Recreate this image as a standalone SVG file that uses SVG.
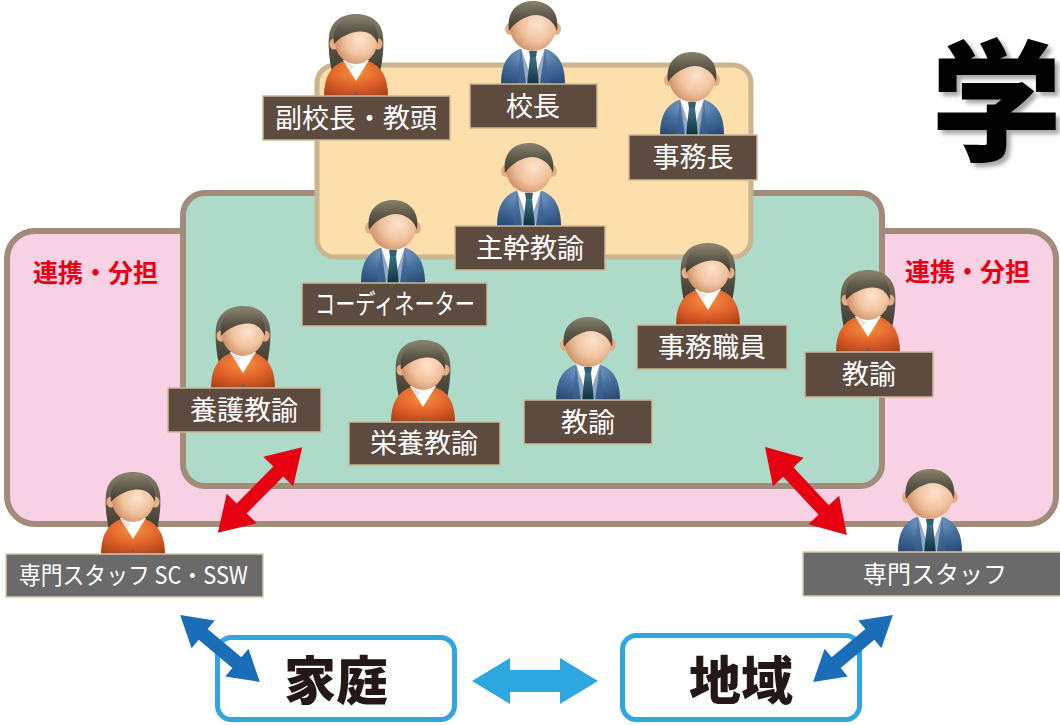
<svg xmlns="http://www.w3.org/2000/svg" width="1060" height="725" viewBox="0 0 1060 725">
  <defs>
    <style>
      .lbl { fill: #5e4b40; stroke: #cbb894; stroke-width: 1.5; }
      .gry { fill: #6a6a6a; stroke: #d6c8aa; stroke-width: 1.5; }
      .lt { font-family: "Noto Sans CJK JP", "Noto Sans", sans-serif; font-size: 27px; fill: #ffffff; text-anchor: middle; }
      .st { font-family: "Noto Sans CJK JP", "Noto Sans", sans-serif; font-size: 24px; fill: #ffffff; }
      .red { font-family: "Noto Sans CJK JP", sans-serif; font-size: 25px; font-weight: 700; fill: #e60012; }
      .big { font-family: "Noto Sans CJK JP", sans-serif; font-size: 52px; font-weight: 900; fill: #231815; text-anchor: middle; }
      .outer { stroke: #a38b79; stroke-width: 6; }
      .place { fill: #ffffff; stroke: #2ea7e0; stroke-width: 5; }
    </style>
    <radialGradient id="skin" cx="0.6" cy="0.45" r="0.65">
      <stop offset="0" stop-color="#fde4cf"/>
      <stop offset="0.55" stop-color="#f1c29d"/>
      <stop offset="1" stop-color="#c98a60"/>
    </radialGradient>
    <linearGradient id="hair" x1="0" y1="0" x2="0" y2="1">
      <stop offset="0" stop-color="#88826d"/>
      <stop offset="0.5" stop-color="#5d5848"/>
      <stop offset="1" stop-color="#3f3b30"/>
    </linearGradient>
    <radialGradient id="suit" cx="0.5" cy="0.15" r="0.95">
      <stop offset="0" stop-color="#86a7cd"/>
      <stop offset="0.5" stop-color="#466e9d"/>
      <stop offset="1" stop-color="#284872"/>
    </radialGradient>
    <linearGradient id="tie" x1="0" y1="0" x2="0" y2="1">
      <stop offset="0" stop-color="#3f7283"/>
      <stop offset="1" stop-color="#0e3243"/>
    </linearGradient>
    <radialGradient id="jacket" cx="0.5" cy="0.3" r="0.85">
      <stop offset="0" stop-color="#f5913f"/>
      <stop offset="0.5" stop-color="#e0612a"/>
      <stop offset="1" stop-color="#a53d15"/>
    </radialGradient>
    <filter id="shade" x="-20%" y="-20%" width="140%" height="140%">
      <feDropShadow dx="4" dy="4" stdDeviation="2" flood-color="#000" flood-opacity="0.35"/>
    </filter>

    <!-- man figure, origin at the bottom centre of the body -->
    <g id="man">
      <path d="M-32 0 C-32 -17 -27 -30 -13 -35 L13 -35 C27 -30 32 -17 32 0 Z" fill="url(#suit)"/>
      <polygon points="-12,-36 12,-36 7,0 -7,0" fill="#ffffff"/>
      <path d="M-12 -36 L-3 -10 L-7 0 L-16 0 Z M12 -36 L3 -10 L7 0 L16 0 Z" fill="#3d6593" opacity="0.55"/>
      <polygon points="-4,-33 4,-33 3,-27 -3,-27" fill="#2f5e70"/>
      <polygon points="-3,-27 3,-27 6,0 -6,0" fill="url(#tie)"/>
      <ellipse cx="-23" cy="-55" rx="5" ry="6" fill="#e5ad85"/>
      <ellipse cx="23" cy="-55" rx="5" ry="6" fill="#e5ad85"/>
      <ellipse cx="0" cy="-57" rx="23" ry="24" fill="url(#skin)"/>
      <path d="M-24 -53 C-27 -74 -14 -83 0 -83 C14 -83 27 -74 24 -53 C21 -63 12 -69 2 -69 C-8 -68 -18 -62 -24 -53 Z" fill="url(#hair)"/>
    </g>

    <!-- woman figure, origin at the bottom centre of the body -->
    <g id="woman">
      <path d="M-24 -24 C-27 -38 -28 -50 -27 -60 C-25 -76 -13 -82 0 -82 C13 -82 25 -76 27 -60 C28 -50 27 -38 24 -24 Z" fill="url(#hair)"/>
      <path d="M-32 0 C-32 -18 -26 -30 -12 -35 L12 -35 C26 -30 32 -18 32 0 Z" fill="url(#jacket)"/>
      <polygon points="-13,-36 13,-36 0,-15" fill="#ffffff"/>
      <polygon points="-13,-36 -6,-25 -2,-30" fill="#e6e6e6"/>
      <circle cx="0" cy="-3" r="1.5" fill="#666"/>
      <ellipse cx="-22" cy="-52" rx="4.5" ry="5.5" fill="#e5ad85"/>
      <ellipse cx="22" cy="-52" rx="4.5" ry="5.5" fill="#e5ad85"/>
      <ellipse cx="0" cy="-54" rx="21" ry="22" fill="url(#skin)"/>
      <path d="M-22 -52 C-24 -72 -12 -80 0 -80 C12 -80 24 -72 22 -52 C18 -62 10 -66 0 -64 C-8 -63 -17 -58 -22 -52 Z" fill="url(#hair)"/>
    </g>

    <!-- double-headed arrows, centred at the origin, pointing along x -->
    <polygon id="arrowRed" points="-60,0 -26,-21 -26,-7 26,-7 26,-21 60,0 26,21 26,7 -26,7 -26,21"/>
    <polygon id="arrowBlue" points="-52,0 -22,-18 -22,-7 22,-7 22,-18 52,0 22,18 22,7 -22,7 -22,18"/>
    <polygon id="arrowWide" points="-63,0 -25,-23 -25,-11 25,-11 25,-23 63,0 25,23 25,11 -25,11 -25,23"/>
  </defs>

  <rect width="1060" height="725" fill="#ffffff"/>

  <!-- nested areas -->
  <g id="areas">
    <rect class="outer" x="7" y="231" width="1049" height="293" rx="28" fill="#f8d1e4"/>
    <rect class="outer" x="183" y="193" width="699" height="293" rx="22" fill="#aedac9"/>
    <rect x="317" y="65" width="434" height="192" rx="18" fill="#fcdfab" stroke="#c9b690" stroke-width="5"/>
  </g>

  <text x="931" y="150" font-family="Noto Sans CJK JP, sans-serif" font-size="131" font-weight="900" fill="#000" filter="url(#shade)">学</text>

  <text class="red" x="33" y="282">連携・分担</text>
  <text class="red" x="905" y="281">連携・分担</text>

  <!-- people -->
  <g id="vice-principal">
    <use href="#woman" x="356" y="96"/>
    <rect class="lbl" x="263" y="96" width="187" height="44"/>
    <text class="lt" x="356" y="128">副校長・教頭</text>
  </g>
  <g id="principal">
    <use href="#man" x="533" y="84"/>
    <rect class="lbl" x="470" y="84" width="127" height="44"/>
    <text class="lt" x="533" y="116">校長</text>
  </g>
  <g id="office-chief">
    <use href="#man" x="692" y="135"/>
    <rect class="lbl" x="629" y="135" width="128" height="45"/>
    <text class="lt" x="693" y="167">事務長</text>
  </g>
  <g id="senior-teacher">
    <use href="#man" x="529" y="226"/>
    <rect class="lbl" x="455" y="226" width="150" height="44"/>
    <text class="lt" x="530" y="258">主幹教諭</text>
  </g>
  <g id="coordinator">
    <use href="#man" x="393" y="283"/>
    <rect class="lbl" x="302" y="283" width="185" height="43"/>
    <text class="lt" x="395" y="314" textLength="160" lengthAdjust="spacingAndGlyphs">コーディネーター</text>
  </g>
  <g id="office-staff">
    <use href="#woman" x="708" y="325"/>
    <rect class="lbl" x="637" y="325" width="150" height="44"/>
    <text class="lt" x="712" y="357">事務職員</text>
  </g>
  <g id="teacher-right">
    <use href="#woman" x="868" y="352"/>
    <rect class="lbl" x="805" y="352" width="128" height="45"/>
    <text class="lt" x="869" y="384">教諭</text>
  </g>
  <g id="school-nurse">
    <use href="#woman" x="243" y="388"/>
    <rect class="lbl" x="168" y="388" width="153" height="44"/>
    <text class="lt" x="244" y="420">養護教諭</text>
  </g>
  <g id="nutrition-teacher">
    <use href="#woman" x="423" y="422"/>
    <rect class="lbl" x="349" y="422" width="151" height="43"/>
    <text class="lt" x="424" y="453">栄養教諭</text>
  </g>
  <g id="teacher-middle">
    <use href="#man" x="588" y="400"/>
    <rect class="lbl" x="524" y="400" width="128" height="44"/>
    <text class="lt" x="588" y="432">教諭</text>
  </g>
  <g id="specialist-left">
    <use href="#woman" x="133" y="554"/>
    <rect class="gry" x="6" y="554" width="257" height="43"/>
    <text class="st" x="19" y="584" textLength="229" lengthAdjust="spacingAndGlyphs">専門スタッフ SC・SSW</text>
  </g>
  <g id="specialist-right">
    <use href="#man" x="930" y="552"/>
    <rect class="gry" x="803" y="552" width="258" height="44"/>
    <text class="st" x="863" y="583">専門スタッフ</text>
  </g>

  <!-- home and community -->
  <g id="home">
    <rect class="place" x="217.5" y="637.5" width="237" height="82" rx="14"/>
    <text class="big" x="336" y="700">家庭</text>
  </g>
  <g id="community">
    <rect class="place" x="622.5" y="635.5" width="237" height="84" rx="14"/>
    <text class="big" x="741" y="700">地域</text>
  </g>

  <!-- connectors -->
  <g id="connectors">
    <use href="#arrowRed" fill="#e60012" transform="translate(260 490) rotate(-45.3)"/>
    <use href="#arrowRed" fill="#e60012" transform="translate(806 491) rotate(47)"/>
    <use href="#arrowBlue" fill="#1a6db7" transform="translate(220 648.5) rotate(40)"/>
    <use href="#arrowBlue" fill="#1a6db7" transform="translate(853 648.5) rotate(-40)"/>
    <use href="#arrowWide" fill="#2ea7e0" transform="translate(535 681)"/>
  </g>
</svg>
